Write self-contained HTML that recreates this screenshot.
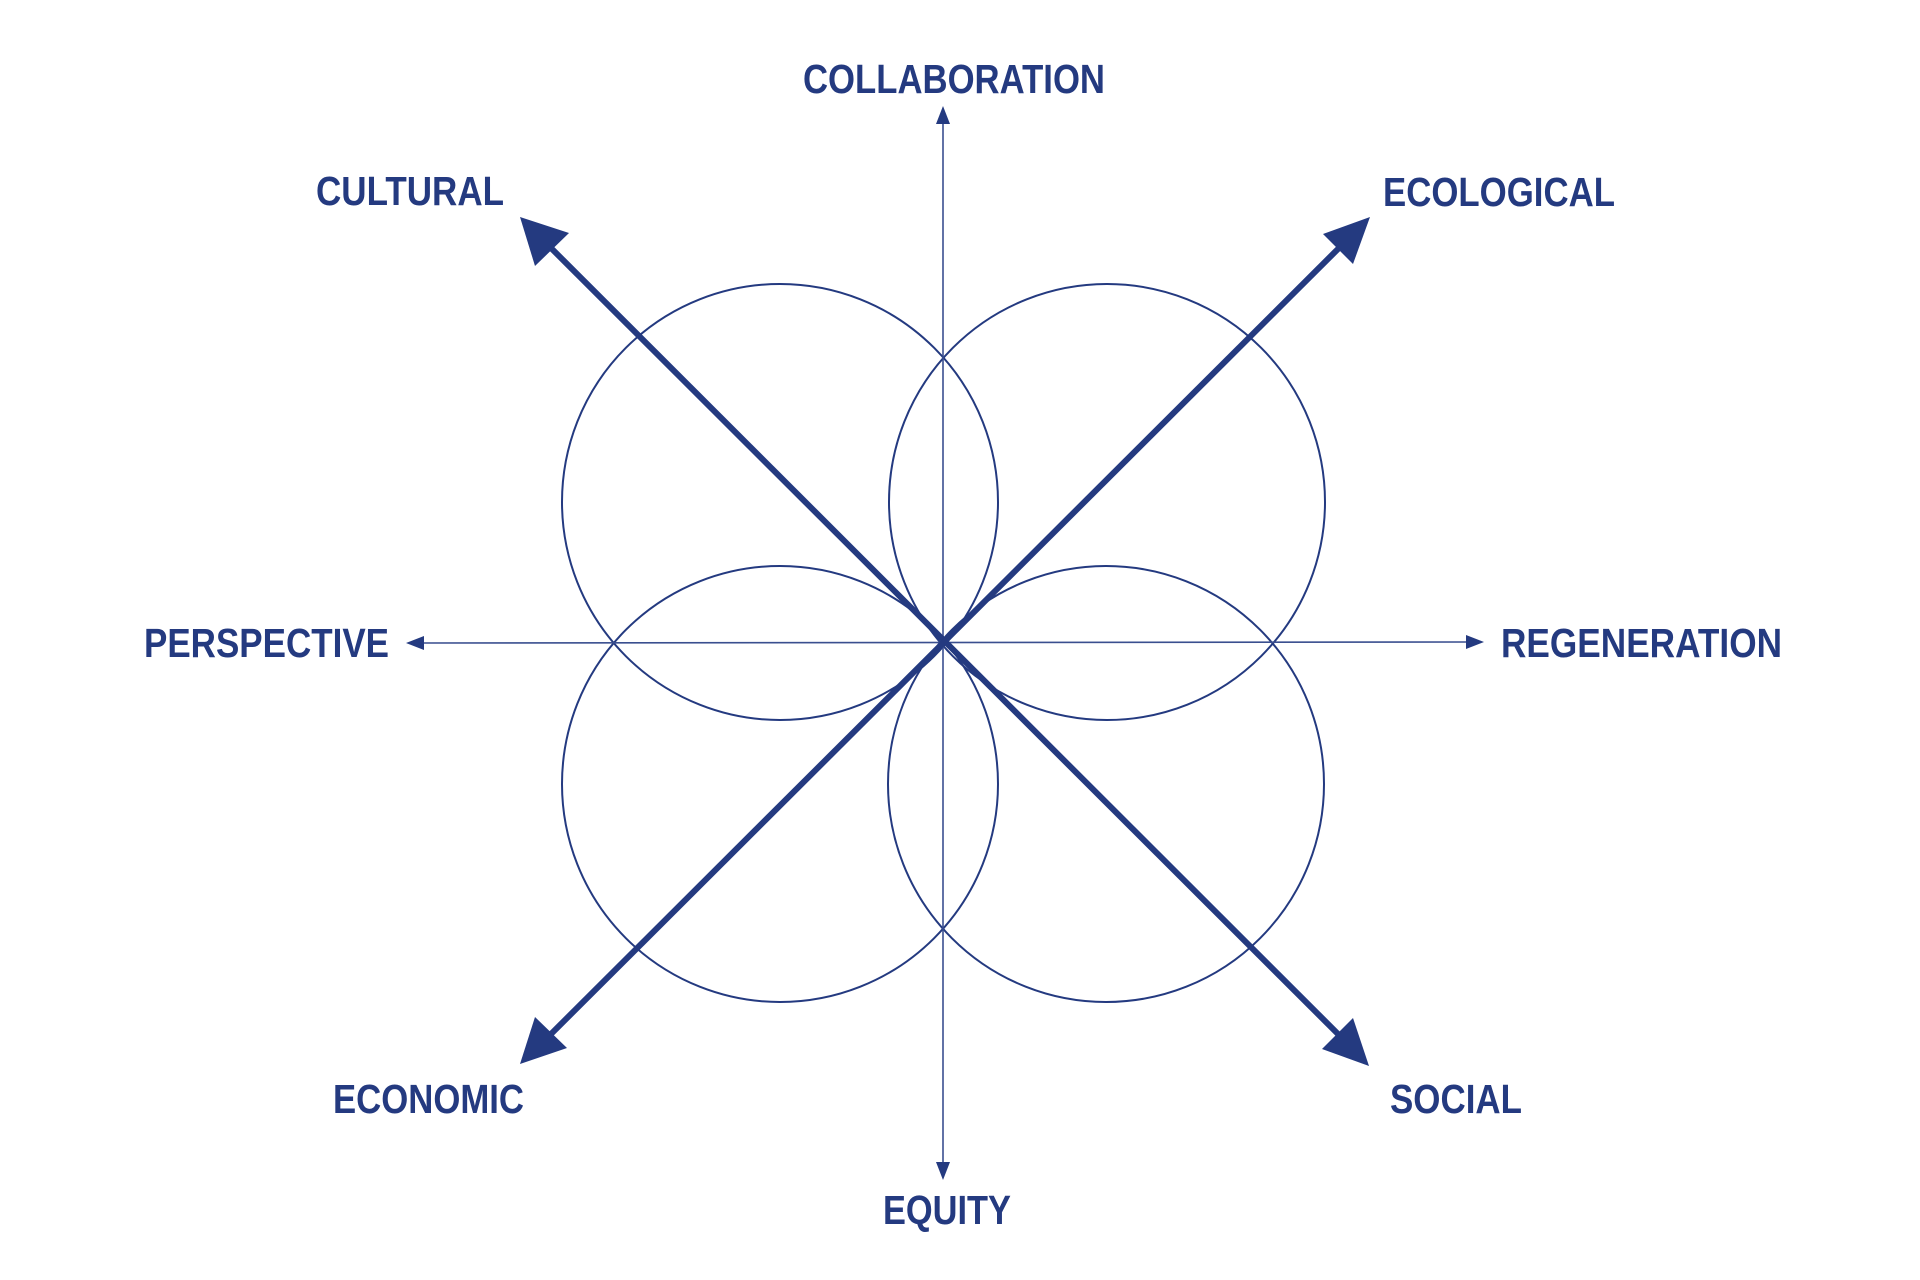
<!DOCTYPE html>
<html><head><meta charset="utf-8"><style>
html,body{margin:0;padding:0;background:#fff;}
svg{display:block}
text{font-family:"Liberation Sans",sans-serif;font-weight:bold;font-size:41px;fill:#243a80}
</style></head><body>
<svg width="1920" height="1280" viewBox="0 0 1920 1280" xmlns="http://www.w3.org/2000/svg">
<g fill="none" stroke="#243a80" stroke-width="2">
<circle cx="780" cy="502" r="218"/>
<circle cx="1107" cy="502" r="218"/>
<circle cx="780" cy="784" r="218"/>
<circle cx="1106" cy="784" r="218"/>
</g>
<g stroke="#3a4f8f" stroke-width="1.6">
<line x1="943" y1="120" x2="943" y2="1166"/>
<line x1="420" y1="643" x2="1470" y2="642"/>
</g>
<g fill="#243a80">
<polygon points="943,106 936,124 950,124"/>
<polygon points="943,1180 936,1162 950,1162"/>
<polygon points="406,643 424,636 424,650"/>
<polygon points="1484,642 1466,635 1466,649"/>
</g>
<g stroke="#243a80" stroke-width="6">
<line x1="545" y1="242" x2="1344" y2="1040"/>
<line x1="1344" y1="243" x2="545" y2="1040"/>
</g>
<g fill="#243a80">
<polygon points="520,217 569,233 535,266"/>
<polygon points="1370,217 1323,234 1353,264"/>
<polygon points="520,1064 535,1017 567,1048"/>
<polygon points="1369,1066 1322,1049 1353,1018"/>
</g>
<text x="803" y="93" textLength="302" lengthAdjust="spacingAndGlyphs">COLLABORATION</text>
<text x="316" y="205" textLength="188" lengthAdjust="spacingAndGlyphs">CULTURAL</text>
<text x="1383" y="206" textLength="232" lengthAdjust="spacingAndGlyphs">ECOLOGICAL</text>
<text x="144" y="657" textLength="245" lengthAdjust="spacingAndGlyphs">PERSPECTIVE</text>
<text x="1501" y="657" textLength="281" lengthAdjust="spacingAndGlyphs">REGENERATION</text>
<text x="333" y="1113" textLength="191" lengthAdjust="spacingAndGlyphs">ECONOMIC</text>
<text x="1390" y="1113" textLength="132" lengthAdjust="spacingAndGlyphs">SOCIAL</text>
<text x="883" y="1224" textLength="128" lengthAdjust="spacingAndGlyphs">EQUITY</text>
</svg>
</body></html>
